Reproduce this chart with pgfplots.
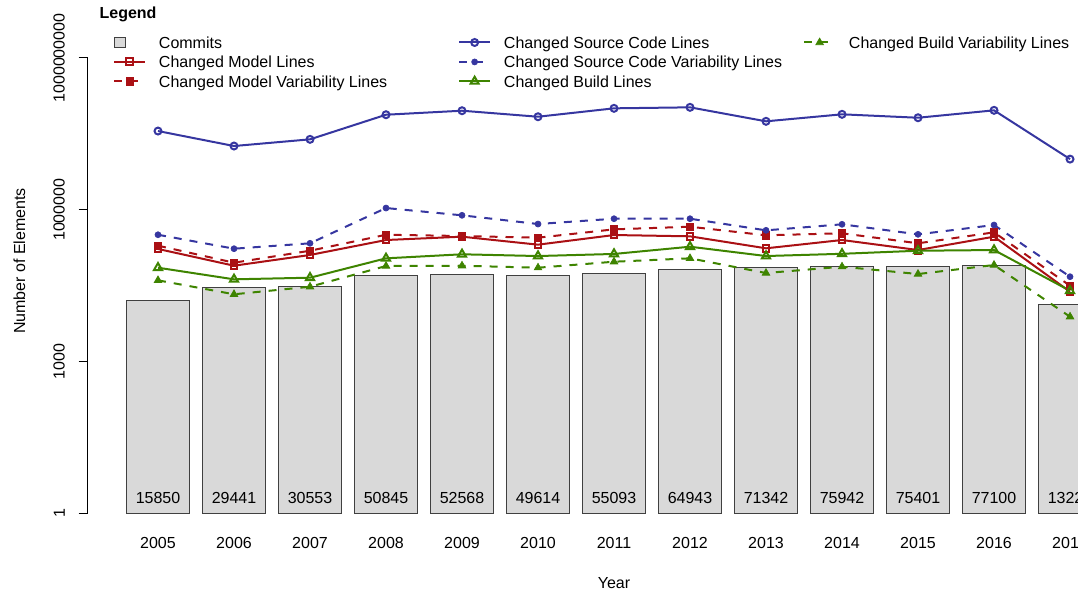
\documentclass[border=0pt]{standalone}
\usepackage{pgfplots}
\pgfplotsset{compat=1.18}
\usepackage{pgfplotstable}
\usepackage{fontspec}
\setmainfont{Liberation Sans}
\definecolor{rblue}{RGB}{54,54,160}
\definecolor{rred}{RGB}{170,16,20}
\definecolor{rgreen}{RGB}{62,132,0}
\definecolor{barfill}{RGB}{217,217,217}

\pgfplotstableread{
x  commits cml     cmvl    cscl     cscvl   cbl     cbvl   laby
0  15850   1.67e5  1.94e5  3.59e7   3.19e5  7.11e4  4.00e4 1.507
1  29441   7.79e4  8.93e4  1.815e7  1.69e5  4.19e4  2.12e4 1.507
2  30553   1.27e5  1.54e5  2.46e7   2.16e5  4.51e4  2.99e4 1.507
3  50845   2.51e5  3.19e5  7.55e7   1.077e6 1.09e5  7.68e4 1.507
4  52568   2.92e5  3.01e5  9.06e7   7.73e5  1.31e5  7.78e4 1.507
5  49614   2.03e5  2.79e5  6.89e7   5.20e5  1.21e5  7.11e4 1.507
6  55093   3.15e5  4.08e5  1.01e8   6.62e5  1.33e5  9.34e4 1.507
7  64943   2.97e5  4.60e5  1.057e8  6.62e5  1.85e5  1.09e5 1.507
8  71342   1.72e5  3.11e5  5.59e7   3.90e5  1.21e5  5.58e4 1.507
9  75942   2.51e5  3.41e5  7.69e7   5.13e5  1.34e5  7.44e4 1.507
10 75401   1.59e5  2.16e5  6.58e7   3.25e5  1.54e5  5.33e4 1.507
11 77100   2.92e5  3.56e5  9.22e7   4.97e5  1.59e5  8.04e4 1.507
12 13220   2.38e4  3.13e4  1.00e7   4.72e4  2.49e4  7630   1.507
}\data

\begin{document}
\fontsize{12}{14.4}\selectfont
\begin{tikzpicture}
\path[use as bounding box] (0pt,0pt) rectangle (808.5pt,444.75pt);
\clip (0pt,0pt) rectangle (808.5pt,444.75pt);
\begin{axis}[
  at={(66pt,60pt)}, anchor=south west,
  scale only axis, width=742.5pt, height=341.25pt,
  xmin=-0.9211, xmax=12.105,
  ymode=log, ymin=1, ymax=1e9,
  log basis y=10,
  enlargelimits=false,
  axis lines*=left,
  x axis line style={draw=none},
  y axis line style={line width=0.75pt, black},
  xtick={0,1,2,3,4,5,6,7,8,9,10,11,12},
  xticklabels={2005,2006,2007,2008,2009,2010,2011,2012,2013,2014,2015,2016,2017},
  xtick style={draw=none},
  ytick={1,1000,1000000,1000000000},
  yticklabels={1,1000,1000000,1000000000},
  minor ytick={},
  ytick align=outside,
  ytick style={line width=0.75pt, black},
  major tick length=7pt,
  /pgf/number format/assume math mode=true,
  yticklabel style={rotate=90, anchor=south, inner sep=0pt},
  yticklabel shift=10.15pt,
  xticklabel style={anchor=north, inner sep=0pt},
  xticklabel shift=18.2pt,
  xlabel={Year},
  ylabel={Number of Elements},
  every axis x label/.style={at={(axis description cs:0.5313,-0.1532)}, anchor=center},
  every axis y label/.style={at={(axis description cs:-0.0693,0.5538)}, rotate=90, anchor=center},
  legend columns=3,
  legend cell align=left,
  legend style={at={(axis description cs:0.02556,1.05549)}, anchor=north west,
    draw=none, fill=none, inner sep=0pt, outer sep=0pt,
    column sep=0pt, row sep=0pt,
    nodes={inner sep=0pt, outer sep=0pt, text height=11.6pt, text depth=3pt}},
  legend image code/.code={%
    \path[draw=none, fill=none] (0pt,-5pt) rectangle (23pt,5pt);
    \draw[mark repeat=2,mark phase=2,#1] plot coordinates {(0pt,0pt) (11.5pt,0pt) (23pt,0pt)};},
]
% bars
\addplot[ybar, bar width=0.8333, fill=barfill, draw=black!75, line width=0.75pt, forget plot]
  table[x=x, y=commits]{\data};
% bar labels
\addplot[draw=none, mark=none, forget plot, nodes near coords, point meta=explicit symbolic,
  nodes near coords style={anchor=base, inner sep=0pt, text=black}]
  table[x=x, y=laby, meta=commits]{\data};
% lines
\addplot[rred, line width=1.5pt, mark=square, mark size=2.6pt, mark options={solid, fill=white}, forget plot]
  table[x=x, y=cml]{\data};
\addplot[rred, line width=1.5pt, dash pattern=on 6pt off 6pt, mark=square*, mark size=2.85pt,
  mark options={solid, line width=0.5pt, fill=rred}, forget plot]
  table[x=x, y=cmvl]{\data};
\addplot[rblue, line width=1.5pt, mark=o, mark size=2.6pt, mark options={solid, fill=white}, forget plot]
  table[x=x, y=cscl]{\data};
\addplot[rblue, line width=1.5pt, dash pattern=on 6pt off 6pt, mark=*, mark size=2.25pt,
  mark options={solid, line width=0.5pt, fill=rblue}, forget plot]
  table[x=x, y=cscvl]{\data};
\addplot[rgreen, line width=1.5pt, mark=triangle, mark size=3.5pt, mark options={solid, fill=white}, forget plot]
  table[x=x, y=cbl]{\data};
\addplot[rgreen, line width=1.5pt, dash pattern=on 6pt off 6pt, mark=triangle*, mark size=3.3pt,
  mark options={solid, line width=0.5pt, fill=rgreen}, forget plot]
  table[x=x, y=cbvl]{\data};

% legend (row-major order reproducing R's column-major layout)
\addlegendimage{legend image code/.code={%
    \path[draw=none, fill=none] (0pt,-5pt) rectangle (23pt,5pt);
    \draw[fill=barfill, draw=black!75, line width=0.75pt] (0pt,-3.5pt) rectangle (8.5pt,3.5pt);}}
\addlegendentry{\hspace*{9.75pt}\makebox[224.5pt][l]{Commits}}
\addlegendimage{rblue, line width=1.5pt, mark=o, mark size=2.6pt, mark options={solid, fill=white}}
\addlegendentry{\hspace*{9.75pt}\makebox[224.5pt][l]{Changed Source Code Lines}}
\addlegendimage{rgreen, line width=1.5pt, dash pattern=on 6pt off 6pt, mark=triangle*, mark size=3.3pt, mark options={solid, line width=0.5pt, fill=rgreen}}
\addlegendentry{\hspace*{9.75pt}Changed Build Variability Lines}
\addlegendimage{rred, line width=1.5pt, mark=square, mark size=2.6pt, mark options={solid, fill=white}}
\addlegendentry{\hspace*{9.75pt}\makebox[224.5pt][l]{Changed Model Lines}}
\addlegendimage{rblue, line width=1.5pt, dash pattern=on 6pt off 6pt, mark=*, mark size=2.25pt, mark options={solid, line width=0.5pt, fill=rblue}}
\addlegendentry{\hspace*{9.75pt}\makebox[224.5pt][l]{Changed Source Code Variability Lines}}
\addlegendimage{empty legend}
\addlegendentry{}
\addlegendimage{rred, line width=1.5pt, dash pattern=on 6pt off 6pt, mark=square*, mark size=2.85pt, mark options={solid, line width=0.5pt, fill=rred}}
\addlegendentry{\hspace*{9.75pt}\makebox[224.5pt][l]{Changed Model Variability Lines}}
\addlegendimage{rgreen, line width=1.5pt, mark=triangle, mark size=3.5pt, mark options={solid, fill=white}}
\addlegendentry{\hspace*{9.75pt}\makebox[224.5pt][l]{Changed Build Lines}}
\end{axis}
\node[anchor=base west, inner sep=0pt, font=\bfseries] at (74.5pt,430.9pt) {Legend};
\end{tikzpicture}
\end{document}
